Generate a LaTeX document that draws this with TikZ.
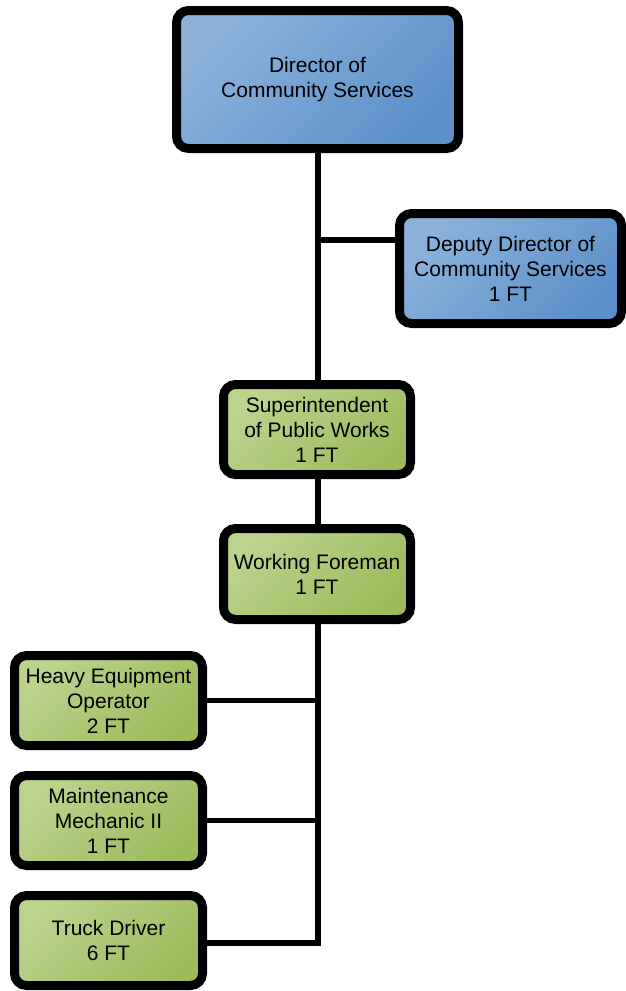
\documentclass[tikz,border=0pt]{standalone}
\usepackage{fontspec}
\setmainfont{Liberation Sans}
\definecolor{bluelt}{RGB}{140,178,219}
\definecolor{bluedk}{RGB}{92,145,202}
\definecolor{greenlt}{RGB}{188,211,142}
\definecolor{greendk}{RGB}{156,188,92}
\tikzset{
  box/.style={draw=black, line width=9pt, rounded corners=12pt, align=center,
    font=\fontsize{21}{25}\selectfont, inner sep=0pt, text=black},
  bluebox/.style={box, top color=bluelt, bottom color=bluedk, shading angle=45},
  greenbox/.style={box, top color=greenlt, bottom color=greendk, shading angle=45},
  link/.style={draw=black, line width=5.5pt}
}
\begin{document}
\begin{tikzpicture}[x=1pt, y=-1pt]
\useasboundingbox (0,0) rectangle (626,991);
\node[bluebox, minimum width=282pt, minimum height=138pt] (dir) at (317.5,79.5) {Director of\\Community Services};
\node[bluebox, minimum width=222pt, minimum height=110pt] (dep) at (510.5,268.5) {Deputy Director of\\Community Services\\1 FT};
\node[greenbox, minimum width=187pt, minimum height=90pt] (sup) at (317,429.5) {Superintendent\\of Public Works\\1 FT};
\node[greenbox, minimum width=187pt, minimum height=91pt] (fore) at (317,574) {Working Foreman\\1 FT};
\node[greenbox, minimum width=188pt, minimum height=90pt] (heo) at (108.5,700.5) {Heavy Equipment\\Operator\\2 FT};
\node[greenbox, minimum width=188pt, minimum height=90pt] (mm) at (108.5,820.5) {Maintenance\\Mechanic II\\1 FT};
\node[greenbox, minimum width=188pt, minimum height=90pt] (td) at (108.5,940.5) {Truck Driver\\6 FT};
\coordinate (trunk) at (318,0);
\coordinate (depj) at (318,240);
\coordinate (bend) at (318,943);
\draw[link] (dir.south -| trunk) -- (sup.north -| trunk);
\draw[link] (depj) -- (dep.west |- depj);
\draw[link] (sup.south -| trunk) -- (fore.north -| trunk);
\draw[link] (fore.south -| trunk) -- (bend) -- (td.east |- bend);
\draw[link] (heo.east) -- (heo.east -| trunk);
\draw[link] (mm.east) -- (mm.east -| trunk);
\end{tikzpicture}
\end{document}
